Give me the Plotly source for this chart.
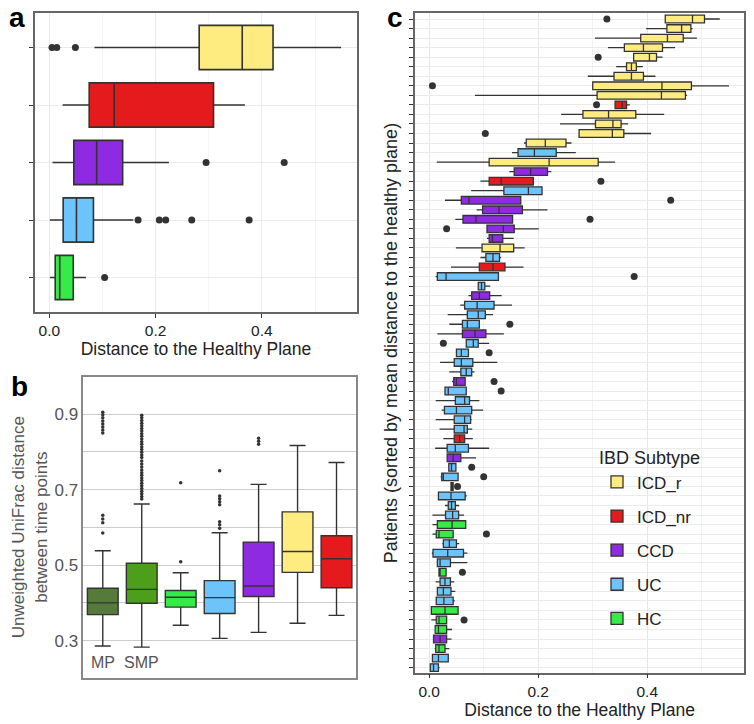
import plotly.graph_objects as go

# ---------------- Panel a data ----------------
a_groups = ["ICD_r", "ICD_nr", "CCD", "UC", "HC"]
a_lo  = [0.085, 0.025, 0.006, 0.001, 0.001]
a_q1  = [0.282, 0.075, 0.046, 0.026, 0.011]
a_med = [0.363, 0.122, 0.089, 0.051, 0.0195]
a_q3  = [0.421, 0.309, 0.138, 0.083, 0.045]
a_hi  = [0.549, 0.368, 0.225, 0.158, 0.069]
a_out_group = ["ICD_r", "ICD_r", "ICD_r", "CCD", "CCD", "UC", "UC", "UC", "UC", "UC", "HC"]
a_out_value = [0.005, 0.014, 0.049, 0.295, 0.442, 0.167, 0.207, 0.219, 0.268, 0.376, 0.104]

# ---------------- Panel b data ----------------
b_groups = ["MP", "SMP", "HC", "UC", "CCD", "ICD_r", "ICD_nr"]
b_lo  = [0.286, 0.283, 0.341, 0.306, 0.322, 0.346, 0.367]
b_q1  = [0.369, 0.399, 0.389, 0.372, 0.417, 0.481, 0.440]
b_med = [0.400, 0.436, 0.415, 0.414, 0.445, 0.536, 0.517]
b_q3  = [0.439, 0.505, 0.433, 0.459, 0.561, 0.641, 0.578]
b_hi  = [0.538, 0.662, 0.480, 0.586, 0.714, 0.817, 0.772]
b_out_MP = [0.905, 0.898, 0.890, 0.882, 0.874, 0.866, 0.858, 0.850, 0.632, 0.622, 0.612, 0.585]
b_out_SMP = [0.897, 0.890, 0.883, 0.876, 0.869, 0.862, 0.855, 0.848, 0.841, 0.834, 0.827,
             0.820, 0.813, 0.806, 0.799, 0.792, 0.785, 0.776, 0.768, 0.760, 0.752, 0.745,
             0.738, 0.731, 0.724, 0.717, 0.710, 0.703, 0.696, 0.689, 0.682, 0.675]
b_out_HC = [0.718, 0.509]
b_out_UC = [0.750, 0.683, 0.676, 0.668, 0.660, 0.615, 0.607, 0.598]
b_out_CCD = [0.836, 0.828, 0.820]
b_y_ticks = [0.3, 0.4, 0.5, 0.6, 0.7, 0.8, 0.9]
b_y_ticktext = ["0.3", "", "0.5", "", "0.7", "", "0.9"]

# ---------------- Panel c data (rows top to bottom) ----------------
c_group = ["ICD_r", "ICD_r", "ICD_r", "ICD_r", "ICD_r", "ICD_r", "ICD_r", "ICD_r", "ICD_r", "ICD_nr",
           "ICD_r", "ICD_r", "ICD_r", "ICD_r", "UC", "ICD_r", "CCD", "ICD_nr", "UC", "CCD",
           "CCD", "CCD", "CCD", "CCD", "ICD_r", "UC", "ICD_nr", "UC", "UC", "CCD",
           "UC", "UC", "UC", "CCD", "UC", "UC", "UC", "UC", "CCD", "UC",
           "UC", "UC", "UC", "UC", "ICD_nr", "UC", "CCD", "UC", "UC", "UC",
           "UC", "UC", "UC", "HC", "HC", "UC", "UC", "UC", "HC", "UC",
           "UC", "UC", "HC", "HC", "HC", "CCD", "HC", "UC", "UC"]
c_lo = [0.433, 0.398, 0.304, 0.328, 0.375, 0.343, 0.291, 0.300, 0.084, 0.341,
        0.242, 0.240, 0.275, 0.174, 0.152, 0.014, 0.147, 0.094, 0.077, 0.029,
        0.087, 0.048, 0.106, 0.106, 0.049, 0.094, 0.040, 0.012, 0.090, 0.072,
        0.057, 0.034, 0.037, 0.015, 0.068, 0.050, 0.020, 0.037, 0.042, 0.028,
        0.012, 0.023, 0.012, 0.019, 0.026, 0.011, 0.033, 0.036, 0.021, 0.040,
        0.017, 0.029, 0.006, 0.006, 0.006, 0.024, 0.005, 0.014, 0.018, 0.012,
        0.015, 0.013, 0.003, 0.004, 0.011, 0.007, 0.010, 0.006, 0.002]
c_q1 = [0.433, 0.436, 0.388, 0.358, 0.375, 0.362, 0.339, 0.300, 0.308, 0.341,
        0.282, 0.305, 0.275, 0.178, 0.163, 0.110, 0.156, 0.110, 0.137, 0.059,
        0.098, 0.062, 0.106, 0.110, 0.097, 0.104, 0.092, 0.015, 0.090, 0.078,
        0.065, 0.070, 0.061, 0.061, 0.068, 0.050, 0.046, 0.058, 0.045, 0.029,
        0.048, 0.028, 0.046, 0.046, 0.046, 0.033, 0.033, 0.036, 0.023, 0.040,
        0.017, 0.035, 0.030, 0.015, 0.013, 0.026, 0.007, 0.015, 0.018, 0.020,
        0.015, 0.013, 0.004, 0.013, 0.011, 0.008, 0.012, 0.006, 0.002]
c_med = [0.483, 0.463, 0.437, 0.393, 0.404, 0.371, 0.371, 0.427, 0.426, 0.354,
         0.329, 0.337, 0.336, 0.213, 0.193, 0.220, 0.186, 0.132, 0.182, 0.073,
         0.128, 0.086, 0.136, 0.116, 0.130, 0.117, 0.117, 0.031, 0.096, 0.092,
         0.088, 0.090, 0.070, 0.084, 0.081, 0.059, 0.059, 0.068, 0.050, 0.035,
         0.065, 0.050, 0.065, 0.064, 0.056, 0.048, 0.044, 0.041, 0.026, 0.042,
         0.040, 0.041, 0.043, 0.042, 0.018, 0.037, 0.034, 0.020, 0.020, 0.029,
         0.026, 0.027, 0.029, 0.018, 0.017, 0.020, 0.018, 0.017, 0.008]
c_q3 = [0.505, 0.480, 0.466, 0.428, 0.417, 0.380, 0.393, 0.481, 0.470, 0.362,
        0.379, 0.352, 0.357, 0.251, 0.233, 0.310, 0.217, 0.191, 0.207, 0.168,
        0.171, 0.153, 0.156, 0.135, 0.155, 0.129, 0.139, 0.127, 0.102, 0.111,
        0.119, 0.103, 0.092, 0.104, 0.090, 0.072, 0.080, 0.078, 0.066, 0.068,
        0.074, 0.078, 0.076, 0.070, 0.065, 0.072, 0.058, 0.049, 0.053, 0.044,
        0.066, 0.048, 0.054, 0.067, 0.044, 0.050, 0.063, 0.039, 0.031, 0.039,
        0.040, 0.044, 0.053, 0.032, 0.032, 0.032, 0.029, 0.035, 0.017]
c_hi = [0.533, 0.483, 0.491, 0.451, 0.428, 0.392, 0.415, 0.550, 0.473, 0.368,
        0.431, 0.365, 0.407, 0.261, 0.269, 0.341, 0.224, 0.191, 0.207, 0.168,
        0.217, 0.153, 0.201, 0.155, 0.175, 0.132, 0.173, 0.127, 0.112, 0.133,
        0.152, 0.117, 0.092, 0.137, 0.110, 0.072, 0.125, 0.083, 0.066, 0.068,
        0.092, 0.099, 0.078, 0.079, 0.080, 0.110, 0.086, 0.049, 0.053, 0.044,
        0.069, 0.055, 0.064, 0.067, 0.044, 0.055, 0.070, 0.070, 0.031, 0.046,
        0.048, 0.047, 0.053, 0.032, 0.042, 0.041, 0.037, 0.035, 0.019]
c_out_row = [1, 5, 8, 10, 13, 18, 20, 22, 23, 28, 33, 35, 36, 39, 40, 48, 49, 50, 55, 59, 64]
c_out_value = [0.326, 0.310, 0.006, 0.307, 0.103, 0.315, 0.443, 0.295, 0.032, 0.376, 0.148,
               0.026, 0.110, 0.119, 0.132, 0.078, 0.100, 0.052, 0.105, 0.061, 0.064]

legend_order = ["ICD_r", "ICD_nr", "CCD", "UC", "HC"]
colors = {"ICD_r": "#FFEC80", "ICD_nr": "#E41A1C", "CCD": "#8E2BE2", "UC": "#6CC4FA",
          "HC": "#35EB47", "MP": "#557A3B", "SMP": "#4D9E1B"}

FONT = "Liberation Sans, Arial, sans-serif"
EDGE = "#333333"
fig = go.Figure()

# ---- panel a ----
a_pos = {g: len(a_groups) - i for i, g in enumerate(a_groups)}
for i, g in enumerate(a_groups):
    fig.add_trace(go.Box(
        y=[a_pos[g]], q1=[a_q1[i]], median=[a_med[i]], q3=[a_q3[i]],
        lowerfence=[a_lo[i]], upperfence=[a_hi[i]], orientation="h",
        fillcolor=colors[g], line=dict(color=EDGE, width=1.6), width=0.77,
        whiskerwidth=0, boxpoints=False, showlegend=False, hoverinfo="skip",
        xaxis="x", yaxis="y"))
fig.add_trace(go.Scatter(
    x=a_out_value, y=[a_pos[g] for g in a_out_group], mode="markers",
    marker=dict(color=EDGE, size=7), showlegend=False, hoverinfo="skip",
    xaxis="x", yaxis="y"))

# ---- panel b ----
for i, g in enumerate(b_groups):
    fig.add_trace(go.Box(
        x=[i], q1=[b_q1[i]], median=[b_med[i]], q3=[b_q3[i]],
        lowerfence=[b_lo[i]], upperfence=[b_hi[i]],
        fillcolor=colors[g], line=dict(color=EDGE, width=1.4), width=0.79,
        whiskerwidth=0.52, boxpoints=False, showlegend=False, hoverinfo="skip",
        xaxis="x2", yaxis="y2"))
b_outs = {"MP": b_out_MP, "SMP": b_out_SMP, "HC": b_out_HC, "UC": b_out_UC, "CCD": b_out_CCD}
bx, by = [], []
for g, vals in b_outs.items():
    bx += [b_groups.index(g)] * len(vals)
    by += vals
fig.add_trace(go.Scatter(
    x=bx, y=by, mode="markers", marker=dict(color=EDGE, size=3.5),
    showlegend=False, hoverinfo="skip", xaxis="x2", yaxis="y2"))

# ---- panel c ----
n_rows = len(c_group)
for g in legend_order:
    idx = [k for k, cg in enumerate(c_group) if cg == g]
    fig.add_trace(go.Box(
        y=[k + 1 for k in idx], q1=[c_q1[k] for k in idx], median=[c_med[k] for k in idx],
        q3=[c_q3[k] for k in idx], lowerfence=[c_lo[k] for k in idx],
        upperfence=[c_hi[k] for k in idx], orientation="h", name=g,
        fillcolor=colors[g], line=dict(color=EDGE, width=1.3), width=0.8,
        whiskerwidth=0, boxpoints=False, showlegend=True, legendgroup=g,
        hoverinfo="skip", xaxis="x3", yaxis="y3"))
fig.add_trace(go.Scatter(
    x=c_out_value, y=c_out_row, mode="markers", marker=dict(color=EDGE, size=7),
    showlegend=False, hoverinfo="skip", xaxis="x3", yaxis="y3"))

W, H = 754, 724
def dx(p0, p1):
    return [p0 / W, p1 / W]
def dy(top, bottom):
    return [1 - bottom / H, 1 - top / H]

frame = dict(showline=True, linecolor="#666666", linewidth=1.5, mirror=True, zeroline=False)

fig.update_layout(
    width=W, height=H, margin=dict(l=0, r=0, t=0, b=0),
    paper_bgcolor="white", plot_bgcolor="white",
    font=dict(family=FONT, color="#222222", size=15),
    boxmode="overlay",
    xaxis=dict(domain=dx(35, 357), anchor="y", range=[-0.027, 0.579],
               tickvals=[0.0, 0.2, 0.4], ticktext=["0.0", "0.2", "0.4"],
               ticks="outside", ticklen=4, tickcolor="#333", tickfont=dict(size=15.5, color="#222"),
               showgrid=True, gridcolor="#EBEBEB", gridwidth=1,
               minor=dict(tickvals=[0.1, 0.3, 0.5], showgrid=True, gridcolor="#F5F5F5", ticks=""),
               title=dict(text="Distance to the Healthy Plane", font=dict(size=17.5, color="#222"), standoff=0),
               **frame),
    yaxis=dict(domain=dy(13, 312), anchor="x", range=[0.4, 5.6],
               tickvals=[1, 2, 3, 4, 5], showticklabels=False, ticks="outside", ticklen=4,
               tickcolor="#333", showgrid=True, gridcolor="#EBEBEB", **frame),
    xaxis2=dict(domain=dx(83.3, 356), anchor="y2", range=[-0.5, 6.5],
                showticklabels=False, ticks="", showgrid=False,
                **dict(frame, linecolor="#888888")),
    yaxis2=dict(domain=dy(376.7, 677.7), anchor="x2", range=[0.202, 0.999],
                tickvals=b_y_ticks, ticktext=b_y_ticktext, ticks="",
                tickfont=dict(size=17, color="#555"),
                showgrid=True, gridcolor="#CCCCCC", gridwidth=1.4,
                title=dict(text="Unweighted UniFrac distance<br>between time points",
                           font=dict(size=17, color="#555"), standoff=3),
                **dict(frame, linecolor="#888888")),
    xaxis3=dict(domain=dx(415, 744.3), anchor="y3", range=[-0.026, 0.578],
                tickvals=[0.0, 0.2, 0.4], ticktext=["0.0", "0.2", "0.4"],
                ticks="outside", ticklen=4, tickcolor="#333", tickfont=dict(size=15.5, color="#222"),
                showgrid=True, gridcolor="#E6E6E6", gridwidth=1,
                minor=dict(tickvals=[0.1, 0.3, 0.5], showgrid=True, gridcolor="#F3F3F3", ticks=""),
                title=dict(text="Distance to the Healthy Plane", font=dict(size=17.5, color="#222"), standoff=2),
                **frame),
    yaxis3=dict(domain=dy(13.3, 672.7), anchor="x3", range=[n_rows + 0.53, 0.4],
                tickvals=list(range(1, n_rows + 1)), showticklabels=False,
                ticks="outside", ticklen=4, tickwidth=1.3, tickcolor="#333",
                showgrid=True, gridcolor="#EBEBEB", gridwidth=1,
                title=dict(text="Patients (sorted by mean distance to the healthy plane)",
                           font=dict(size=18, color="#222"), standoff=7),
                **frame),
    legend=dict(x=597 / W, y=1 - 441 / H, xanchor="left", yanchor="top",
                title=dict(text="IBD Subtype", font=dict(size=18, color="#222")),
                font=dict(size=17, color="#222"), bgcolor="rgba(255,255,255,0)",
                tracegroupgap=9, itemwidth=30),
    annotations=[
        dict(text="<b>a</b>", x=7 / W, y=1 - 18 / H, xref="paper", yref="paper",
             xanchor="left", yanchor="middle", showarrow=False, font=dict(size=28, color="black")),
        dict(text="<b>b</b>", x=9 / W, y=1 - 386 / H, xref="paper", yref="paper",
             xanchor="left", yanchor="middle", showarrow=False, font=dict(size=28, color="black")),
        dict(text="<b>c</b>", x=385 / W, y=1 - 17 / H, xref="paper", yref="paper",
             xanchor="left", yanchor="middle", showarrow=False, font=dict(size=28, color="black")),
        dict(text="MP", x=0, y=0.242, xref="x2", yref="y2", showarrow=False,
             font=dict(size=16, color="#555")),
        dict(text="SMP", x=1, y=0.242, xref="x2", yref="y2", showarrow=False,
             font=dict(size=16, color="#555")),
    ],
)

fig.write_html("out.html", config={"displayModeBar": False},
               post_script="document.body.style.margin='0';")
